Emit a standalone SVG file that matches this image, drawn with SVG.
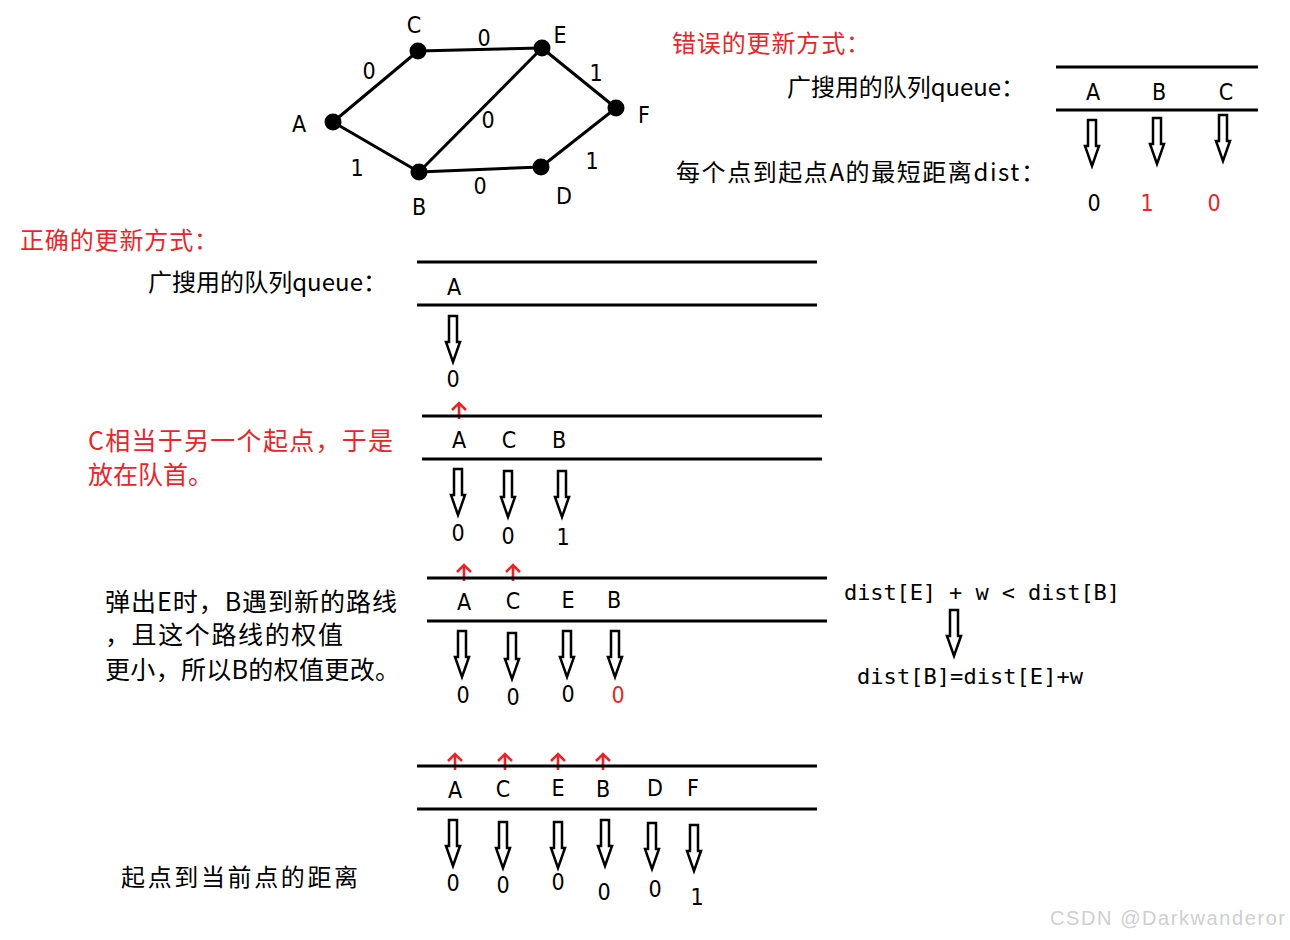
<svg xmlns="http://www.w3.org/2000/svg" width="1290" height="940" viewBox="0 0 1290 940">
<style>
.cn{font-family:"Noto Sans CJK SC","Noto Sans",sans-serif;font-size:24px;fill:#000}
.lb{font-family:"DejaVu Sans Condensed","Liberation Sans",sans-serif;font-size:23px;fill:#000;text-anchor:middle}
.mono{font-family:"DejaVu Sans Mono","Liberation Mono",monospace;font-size:22px;fill:#000}
.ql{stroke:#000;stroke-width:3}
.edge{stroke:#000;stroke-width:3;fill:none}
.wm{font-family:"Liberation Sans",sans-serif;font-size:20px;fill:#cfcfcf}
.cn.red,.lb.red{fill:#e8262a}
</style>
<defs>
<path id="ha" d="M-4,0 H4 V26 H7 L0,46 L-7,26 H-4 Z" fill="#fff" stroke="#000" stroke-width="2.5"/>
<path id="ra" d="M0,17 V1 M-7,8 L0,1 L7,8" fill="none" stroke="#e8262a" stroke-width="2.6"/>
</defs>

<g id="connectors">
<line class="edge" x1="333" y1="122" x2="418" y2="51"/>
<line class="edge" x1="418" y1="51" x2="542" y2="48"/>
<line class="edge" x1="542" y1="48" x2="616" y2="108"/>
<line class="edge" x1="616" y1="108" x2="541" y2="167"/>
<line class="edge" x1="541" y1="167" x2="419" y2="172"/>
<line class="edge" x1="419" y1="172" x2="333" y2="122"/>
<line class="edge" x1="419" y1="172" x2="542" y2="48"/>
<text class="lb" x="369" y="79">0</text>
<text class="lb" x="484" y="46">0</text>
<text class="lb" x="596" y="81">1</text>
<text class="lb" x="488" y="128">0</text>
<text class="lb" x="357" y="176">1</text>
<text class="lb" x="480" y="194">0</text>
<text class="lb" x="592" y="169">1</text>
</g>

<g id="node-A"><circle cx="333" cy="122" r="8.5"/><text class="lb" x="299" y="132">A</text></g>
<g id="node-C"><circle cx="418" cy="51" r="8.5"/><text class="lb" x="414" y="33">C</text></g>
<g id="node-E"><circle cx="542" cy="48" r="8.5"/><text class="lb" x="560" y="43">E</text></g>
<g id="node-F"><circle cx="616" cy="108" r="8.5"/><text class="lb" x="644" y="123">F</text></g>
<g id="node-D"><circle cx="541" cy="167" r="8.5"/><text class="lb" x="564" y="204">D</text></g>
<g id="node-B"><circle cx="419" cy="172" r="8.5"/><text class="lb" x="419" y="215">B</text></g>

<g id="wrong-way">
<text class="cn red" x="672" y="52" textLength="198">错误的更新方式：</text>
<text class="cn" x="787" y="96" textLength="238">广搜用的队列queue：</text>
<line class="ql" x1="1056" y1="67" x2="1258" y2="67"/>
<line class="ql" x1="1056" y1="110" x2="1258" y2="110"/>
<text class="lb" x="1093" y="100">A</text>
<text class="lb" x="1159" y="100">B</text>
<text class="lb" x="1226" y="100">C</text>
<use href="#ha" x="1092" y="120"/>
<use href="#ha" x="1157" y="118"/>
<use href="#ha" x="1223" y="115"/>
<text class="cn" x="676" y="181" textLength="369">每个点到起点A的最短距离dist：</text>
<text class="lb" x="1094" y="211">0</text>
<text class="lb red" x="1147" y="211">1</text>
<text class="lb red" x="1214" y="211">0</text>
</g>

<g id="right-way">
<text class="cn red" x="20" y="249" textLength="198">正确的更新方式：</text>
<text class="cn" x="148" y="291" textLength="239">广搜用的队列queue：</text>
</g>

<g id="queue-1">
<line class="ql" x1="417" y1="262" x2="817" y2="262"/>
<line class="ql" x1="417" y1="305" x2="817" y2="305"/>
<text class="lb" x="454" y="295">A</text>
<use href="#ha" x="453" y="316"/>
<text class="lb" x="453" y="387">0</text>
</g>

<g id="queue-2">
<use href="#ra" x="459" y="402"/>
<line class="ql" x1="422" y1="416" x2="822" y2="416"/>
<line class="ql" x1="422" y1="459" x2="822" y2="459"/>
<text class="lb" x="459" y="448">A</text>
<text class="lb" x="509" y="448">C</text>
<text class="lb" x="559" y="448">B</text>
<use href="#ha" x="458" y="469"/>
<use href="#ha" x="508" y="471"/>
<use href="#ha" x="562" y="471"/>
<text class="lb" x="458" y="541">0</text>
<text class="lb" x="508" y="544">0</text>
<text class="lb" x="563" y="545">1</text>
<text class="cn red" x="88" y="450" textLength="305" style="font-size:25px">C相当于另一个起点，于是</text>
<text class="cn red" x="88" y="484" style="font-size:25px">放在队首。</text>
</g>

<g id="queue-3">
<use href="#ra" x="464" y="564"/>
<use href="#ra" x="513" y="564"/>
<line class="ql" x1="427" y1="578" x2="827" y2="578"/>
<line class="ql" x1="427" y1="621" x2="827" y2="621"/>
<text class="lb" x="464" y="610">A</text>
<text class="lb" x="513" y="609">C</text>
<text class="lb" x="568" y="608">E</text>
<text class="lb" x="614" y="608">B</text>
<use href="#ha" x="462" y="631"/>
<use href="#ha" x="512" y="633"/>
<use href="#ha" x="567" y="631"/>
<use href="#ha" x="615" y="631"/>
<text class="lb" x="463" y="703">0</text>
<text class="lb" x="513" y="705">0</text>
<text class="lb" x="568" y="702">0</text>
<text class="lb red" x="618" y="703">0</text>
<text class="cn" x="105" y="611" textLength="292" style="font-size:25px">弹出E时，B遇到新的路线</text>
<text class="cn" x="105" y="644" textLength="238" style="font-size:25px">，且这个路线的权值</text>
<text class="cn" x="105" y="679" textLength="295" style="font-size:25px">更小，所以B的权值更改。</text>
<text class="mono" x="844" y="600" textLength="276">dist[E] + w &lt; dist[B]</text>
<use href="#ha" x="954" y="610"/>
<text class="mono" x="857" y="684" textLength="226">dist[B]=dist[E]+w</text>
</g>

<g id="queue-4">
<use href="#ra" x="455" y="753"/>
<use href="#ra" x="505" y="753"/>
<use href="#ra" x="558" y="753"/>
<use href="#ra" x="603" y="753"/>
<line class="ql" x1="417" y1="766" x2="817" y2="766"/>
<line class="ql" x1="417" y1="809" x2="817" y2="809"/>
<text class="lb" x="455" y="798">A</text>
<text class="lb" x="503" y="797">C</text>
<text class="lb" x="558" y="796">E</text>
<text class="lb" x="603" y="797">B</text>
<text class="lb" x="655" y="796">D</text>
<text class="lb" x="693" y="796">F</text>
<use href="#ha" x="453" y="820"/>
<use href="#ha" x="503" y="822"/>
<use href="#ha" x="558" y="822"/>
<use href="#ha" x="605" y="820"/>
<use href="#ha" x="652" y="823"/>
<use href="#ha" x="694" y="825"/>
<text class="lb" x="453" y="891">0</text>
<text class="lb" x="503" y="893">0</text>
<text class="lb" x="558" y="890">0</text>
<text class="lb" x="604" y="900">0</text>
<text class="lb" x="655" y="897">0</text>
<text class="lb" x="697" y="905">1</text>
<text class="cn" x="121" y="886" textLength="237">起点到当前点的距离</text>
</g>

<text class="wm" x="1050" y="925" textLength="235">CSDN @Darkwanderor</text>
</svg>
